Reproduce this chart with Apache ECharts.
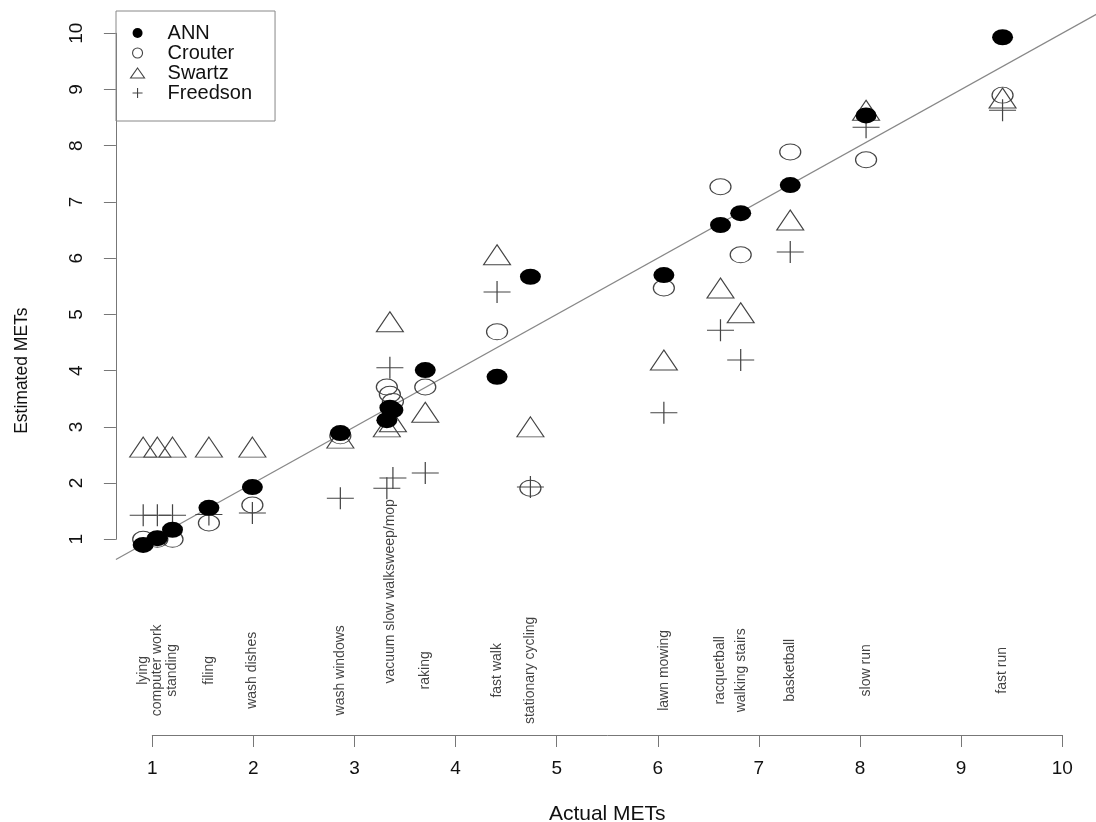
<!DOCTYPE html>
<html>
<head>
<meta charset="utf-8">
<script src="https://cdn.jsdelivr.net/npm/echarts@6/dist/echarts.min.js"></script>
<style>
  html, body { margin: 0; padding: 0; background: #fff; }
  #chart { width: 1096px; height: 822px; }
</style>
</head>
<body>
<div id="chart"></div>
<script>
// ---- data ----
const activities = ['lying', 'computer work', 'standing', 'filing', 'wash dishes', 'wash windows',
  'vacuum', 'slow walk', 'sweep/mop', 'raking', 'fast walk', 'stationary cycling',
  'lawn mowing', 'racquetball', 'walking stairs', 'basketball', 'slow run', 'fast run'];
const actualMETs   = [0.91, 1.05, 1.20, 1.56, 1.99, 2.86, 3.32, 3.35, 3.38, 3.70, 4.41, 4.74, 6.06, 6.62, 6.82, 7.31, 8.06, 9.41];
const annMETs      = [0.90, 1.02, 1.17, 1.56, 1.93, 2.89, 3.12, 3.34, 3.30, 4.01, 3.89, 5.67, 5.70, 6.59, 6.80, 7.30, 8.54, 9.93];
const crouterMETs  = [1.00, 1.00, 1.00, 1.29, 1.61, 2.84, 3.71, 3.58, 3.45, 3.71, 4.69, 1.91, 5.47, 7.27, 6.06, 7.89, 7.75, 8.90];
const swartzMETs   = [2.64, 2.64, 2.64, 2.64, 2.64, 2.80, 3.00, 4.87, 3.09, 3.26, 6.06, 3.00, 4.19, 5.47, 5.03, 6.68, 8.63, 8.85];
const freedsonMETs = [1.43, 1.43, 1.43, 1.44, 1.47, 1.73, 1.91, 4.05, 2.09, 2.18, 5.40, 1.93, 3.25, 4.72, 4.19, 6.11, 8.33, 8.63];

// activity labels as printed under the points (three overlapping ones read as one column)
const activityLabels = ['lying', 'computer work', 'standing', 'filing', 'wash dishes', 'wash windows',
  'vacuum slow walksweep/mop', 'raking', 'fast walk', 'stationary cycling', 'lawn mowing',
  'racquetball', 'walking stairs', 'basketball', 'slow run', 'fast run'];
const activityLabelMETs = [0.91, 1.05, 1.20, 1.56, 1.99, 2.86, 3.35, 3.70, 4.41, 4.74, 6.06, 6.62, 6.82, 7.31, 8.06, 9.41];

const xTicks = [1, 2, 3, 4, 5, 6, 7, 8, 9, 10];
const yTicks = [1, 2, 3, 4, 5, 6, 7, 8, 9, 10];
const seriesNames = ['ANN', 'Crouter', 'Swartz', 'Freedson'];
const plotRangeX = [0.64, 10.36];
const plotRangeY = [-2.48, 10.48];
const identityLine = [0.64, 10.36];   // y = x reference line

// ---- drawing ----
const FONT = 'Liberation Sans, Arial, Helvetica, sans-serif';
const LABEL_Y = -1.33;
const CROSS = 'path://M0,5L10,5M5,0L5,10';
const hollow = { color: 'transparent', borderColor: '#444', borderWidth: 1.1, opacity: 1 };

const zip = (xs, ys) => xs.map((x, i) => [x, ys[i]]);

const chart = echarts.init(document.getElementById('chart'), null, { renderer: 'canvas' });

const option = {
  animation: false,
  backgroundColor: '#fff',
  textStyle: { fontFamily: FONT },
  grid: [
    { left: 115.9, top: 6.3, width: 982.7, height: 728.7, containLabel: false, outerBoundsMode: 'none' },
    { left: 152.3, top: 33.3, width: 909.9, height: 506, containLabel: false, outerBoundsMode: 'none' }
  ],
  xAxis: [
    { gridIndex: 0, type: 'value', min: plotRangeX[0], max: plotRangeX[1], show: false },
    {
      gridIndex: 1, type: 'value', min: xTicks[0], max: xTicks[xTicks.length - 1], interval: 1,
      position: 'bottom', offset: 195.7,
      axisLine: { show: true, lineStyle: { color: '#777', width: 1 } },
      axisTick: { show: true, length: 12, lineStyle: { color: '#777', width: 1 } },
      axisLabel: { margin: 24, fontSize: 19, color: '#111', fontFamily: FONT },
      splitLine: { show: false },
      name: 'Actual METs', nameLocation: 'middle', nameGap: 69,
      nameTextStyle: { fontSize: 21, color: '#111', fontFamily: FONT }
    }
  ],
  yAxis: [
    {
      gridIndex: 0, type: 'value', min: plotRangeY[0], max: plotRangeY[1],
      axisLine: { show: false }, axisTick: { show: false }, axisLabel: { show: false },
      splitLine: { show: false },
      name: 'Estimated METs', nameLocation: 'middle', nameGap: 85,
      nameTextStyle: { fontSize: 17.5, color: '#111', fontFamily: FONT }
    },
    {
      gridIndex: 1, type: 'value', min: yTicks[0], max: yTicks[yTicks.length - 1], interval: 1,
      position: 'left', offset: 36.4,
      axisLine: { show: true, lineStyle: { color: '#777', width: 1 } },
      axisTick: { show: true, length: 12, lineStyle: { color: '#777', width: 1 } },
      axisLabel: { rotate: 90, margin: 30, fontSize: 19, color: '#111', fontFamily: FONT },
      splitLine: { show: false }
    }
  ],
  legend: {
    orient: 'vertical', left: 116, top: 11,
    borderColor: '#888', borderWidth: 1, borderRadius: 0,
    padding: [12, 23, 18, 14],
    itemWidth: 14, itemHeight: 10, itemGap: 0,
    textStyle: { fontSize: 20, lineHeight: 19.6, color: '#111', fontFamily: FONT, padding: [0, 0, 0, 18] },
    data: [
      { name: seriesNames[0], icon: 'circle', itemStyle: { color: '#000', borderWidth: 0, opacity: 1 } },
      { name: seriesNames[1], icon: 'circle', itemStyle: hollow },
      { name: seriesNames[2], icon: 'triangle', itemStyle: hollow },
      { name: seriesNames[3], icon: CROSS, itemStyle: hollow }
    ]
  },
  series: [
    {
      name: 'identity', type: 'line', xAxisIndex: 0, yAxisIndex: 0,
      data: identityLine.map(v => [v, v]), symbol: 'none', silent: true,
      lineStyle: { color: '#888', width: 1.2 }, z: 1
    },
    {
      name: seriesNames[1], type: 'scatter', xAxisIndex: 0, yAxisIndex: 0,
      data: zip(actualMETs, crouterMETs), symbol: 'circle', symbolSize: [21, 16],
      itemStyle: hollow, z: 3
    },
    {
      name: seriesNames[2], type: 'scatter', xAxisIndex: 0, yAxisIndex: 0,
      data: zip(actualMETs, swartzMETs), symbol: 'triangle', symbolSize: [27, 20],
      itemStyle: hollow, z: 3
    },
    {
      name: seriesNames[3], type: 'scatter', xAxisIndex: 0, yAxisIndex: 0,
      data: zip(actualMETs, freedsonMETs), symbol: CROSS, symbolSize: [27, 22],
      itemStyle: hollow, z: 3
    },
    {
      name: seriesNames[0], type: 'scatter', xAxisIndex: 0, yAxisIndex: 0,
      data: zip(actualMETs, annMETs), symbol: 'circle', symbolSize: [21, 16],
      itemStyle: { color: '#000', opacity: 1 }, z: 4
    },
    {
      name: 'activities', type: 'scatter', xAxisIndex: 0, yAxisIndex: 0, silent: true,
      symbolSize: 0,
      data: activityLabels.map((name, i) => {
        const item = { name: name, value: [activityLabelMETs[i], LABEL_Y] };
        if (name.length > 20) item.label = { offset: [79, 0] };
        return item;
      }),
      label: {
        show: true, position: 'inside', rotate: 90, formatter: '{b}',
        fontSize: 14, color: '#111', fontFamily: FONT
      },
      z: 2
    }
  ]
};

chart.setOption(option);
</script>
</body>
</html>
